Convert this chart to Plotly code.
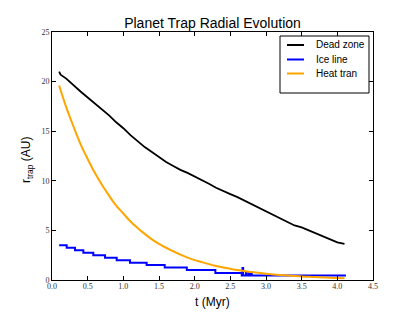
import plotly.graph_objects as go

# ---- data ----
dz_t = [0.1, 0.12, 0.2, 0.3, 0.4, 0.5, 0.6, 0.7, 0.8, 0.9, 1.0, 1.1, 1.2, 1.3, 1.4, 1.5,
        1.6, 1.7, 1.8, 1.9, 2.0, 2.1, 2.2, 2.3, 2.4, 2.5, 2.6, 2.7, 2.8, 2.9, 3.0, 3.1,
        3.2, 3.3, 3.4, 3.5, 3.6, 3.7, 3.8, 3.9, 4.0, 4.1]
dz_r = [21.0, 20.7, 20.3, 19.6, 19.0, 18.4, 17.8, 17.2, 16.6, 15.9, 15.3, 14.6, 14.0, 13.4,
        12.9, 12.4, 11.9, 11.5, 11.1, 10.8, 10.45, 10.05, 9.7, 9.3, 8.95, 8.65, 8.35, 8.0,
        7.6, 7.25, 6.95, 6.6, 6.2, 5.85, 5.5, 5.3, 5.0, 4.7, 4.4, 4.05, 3.8, 3.65]

ice_t = [0.1, 0.206, 0.322, 0.439, 0.579, 0.743, 0.907, 1.093, 1.327, 1.58, 1.89, 2.29,
         2.66, 2.67, 2.68, 2.72, 2.73, 2.76, 2.77, 2.79, 2.80, 4.12]
ice_r = [3.5, 3.25, 3.0, 2.75, 2.5, 2.25, 2.0, 1.75, 1.5, 1.25, 1.0, 0.7,
         0.45, 1.2, 0.45, 0.75, 0.45, 0.7, 0.45, 0.7, 0.45, 0.45]

ht_t = [0.1, 0.2, 0.3, 0.4, 0.5, 0.6, 0.7, 0.8, 0.9, 1.0, 1.1, 1.2, 1.3, 1.4, 1.5, 1.6,
        1.7, 1.8, 1.9, 2.0, 2.1, 2.2, 2.3, 2.4, 2.5, 2.6, 2.7, 2.8, 2.9, 3.0, 3.1, 3.2,
        3.3, 3.4, 3.5, 3.6, 3.7, 3.8, 3.9, 4.0, 4.1]
ht_r = [19.6, 17.4, 15.5, 13.7, 12.2, 10.8, 9.6, 8.5, 7.5, 6.7, 5.9, 5.25, 4.65, 4.1,
        3.65, 3.25, 2.9, 2.55, 2.25, 2.0, 1.8, 1.6, 1.42, 1.27, 1.13, 1.0, 0.9, 0.8, 0.72,
        0.64, 0.56, 0.5, 0.45, 0.4, 0.36, 0.32, 0.29, 0.26, 0.23, 0.2, 0.18]

series_names = ["Dead zone", "Ice line", "Heat tran"]
series_colors = ["#000000", "#0000ff", "#ffa500"]

x_ticks = [0.0, 0.5, 1.0, 1.5, 2.0, 2.5, 3.0, 3.5, 4.0, 4.5]
y_ticks = [0, 5, 10, 15, 20, 25]

# the page has an 8px body margin, so the figure starts at (8, 8) in the window
OFF = 8
W, H = 407, 304
L, R, T, B = 44, 42, 24, 32

fig = go.Figure()
fig.add_trace(go.Scatter(x=dz_t, y=dz_r, mode="lines", name=series_names[0],
                         line=dict(color=series_colors[0], width=1.8)))
fig.add_trace(go.Scatter(x=ice_t, y=ice_r, mode="lines", name=series_names[1],
                         line=dict(color=series_colors[1], width=2, shape="hv")))
fig.add_trace(go.Scatter(x=ht_t, y=ht_r, mode="lines", name=series_names[2],
                         line=dict(color=series_colors[2], width=2, shape="spline")))

tickfont = dict(family="Liberation Serif, DejaVu Serif, serif", size=8, color="#333")
axis_common = dict(showline=True, linecolor="black", linewidth=1, mirror="allticks",
                   ticks="inside", ticklen=4, tickcolor="black", showgrid=False,
                   zeroline=False, tickfont=tickfont, automargin=False)

SANS = "Liberation Sans, Arial, sans-serif"

pw, ph = W - L - R, H - T - B
def px_x(p):
    return (p - OFF - L) / pw
def px_y(p):
    return 1 - (p - OFF - T) / ph

fig.update_layout(
    width=W, height=H,
    margin=dict(l=L, r=R, t=T, b=B),
    paper_bgcolor="white", plot_bgcolor="white",
    showlegend=False,
    title=dict(text="Planet Trap Radial Evolution", x=(L + (W - R)) / 2 / W, xanchor="center",
               xref="container", yref="container", y=1 - (23 - OFF) / H, yanchor="middle",
               font=dict(family=SANS, size=14, color="black")),
    xaxis=dict(range=[0, 4.5], tickvals=x_ticks, ticktext=[f"{v:.1f}" for v in x_ticks],
               ticklabelstandoff=-2, **axis_common),
    yaxis=dict(range=[0, 25], tickvals=y_ticks, ticktext=[str(v) for v in y_ticks],
               ticklabelstandoff=0, **axis_common),
)

fig.add_annotation(xref="paper", yref="paper", x=px_x(212.5), y=px_y(302),
                   text="t (Myr)", showarrow=False, xanchor="center", yanchor="middle",
                   font=dict(family=SANS, size=12, color="black"))
fig.add_annotation(xref="paper", yref="paper", x=px_x(27), y=px_y(160),
                   text="r<sub>trap</sub> (AU)", showarrow=False, textangle=-90,
                   xanchor="center", yanchor="middle",
                   font=dict(family=SANS, size=12, color="black"))

# legend box in matplotlib style
fig.add_shape(type="rect", xref="paper", yref="paper",
              x0=px_x(280), x1=px_x(369), y0=px_y(93), y1=px_y(36),
              line=dict(color="black", width=1), fillcolor="white", layer="above")
rows = [45, 59.5, 73.5]
for name, col, yy in zip(series_names, series_colors, rows):
    fig.add_shape(type="line", xref="paper", yref="paper",
                  x0=px_x(287), x1=px_x(304), y0=px_y(yy), y1=px_y(yy),
                  line=dict(color=col, width=2), layer="above")
    fig.add_annotation(xref="paper", yref="paper", x=px_x(314), y=px_y(yy),
                       text=name, showarrow=False, xanchor="left", yanchor="middle",
                       font=dict(family=SANS, size=10, color="black"))

fig.write_html("out.html")
